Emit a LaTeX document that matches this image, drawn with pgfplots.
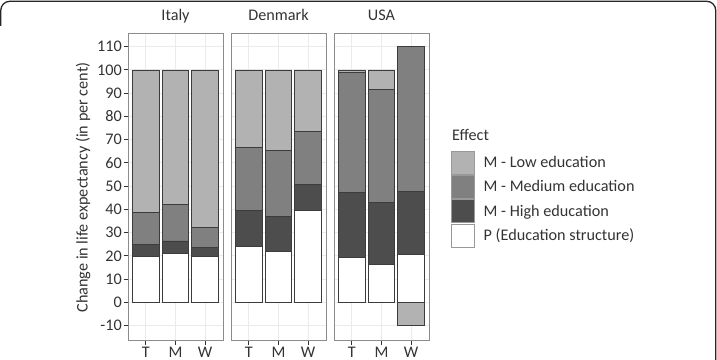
\documentclass[border=0pt]{standalone}
\usepackage{pgfplots}
\pgfplotsset{compat=1.18}
\usepackage{pgfplotstable}
\usepackage{fontspec}
\setmainfont{Carlito}

\definecolor{lowedu}{HTML}{B2B2B2}
\definecolor{mededu}{HTML}{808080}
\definecolor{highedu}{HTML}{4D4D4D}
\definecolor{barline}{HTML}{3C3C3C}
\definecolor{keyline}{HTML}{999999}
\definecolor{gridc}{HTML}{EBEBEB}
\definecolor{panelc}{HTML}{8C8C8C}
\definecolor{textc}{HTML}{333333}

% Decomposition of the change in life expectancy (per cent), by sex
% P = education structure, H/Me/L = mortality effect of high/medium/low education
% x: 0 = T (total), 1 = M (men), 2 = W (women)
\pgfplotstableread{
x P    H    Me   L
0 19.9 5.2  13.5 61.4
1 21.1 5.3  15.8 57.8
2 19.8 3.9  8.7  67.6
}\italy
\pgfplotstableread{
x P    H    Me   L
0 24.2 15.5 27.0 33.3
1 21.8 15.2 28.4 34.6
2 39.5 11.3 22.9 26.3
}\denmark
\pgfplotstableread{
x P    H    Me   L
0 19.2 28.1 51.6 1.1
1 16.4 26.6 48.5 8.5
2 20.8 26.8 62.5 -10.1
}\usa

\newcommand{\chartfont}{\fontsize{16.2bp}{19bp}\selectfont}

\pgfplotsset{
  panel/.style={
    scale only axis, width=95bp, height=307bp,
    xmin=-0.6, xmax=2.6, ymin=-16.2, ymax=115.9,
    xtick={0,1,2}, xticklabels={T,M,W},
    ytick={-10,0,10,20,30,40,50,60,70,80,90,100,110},
    yticklabels={-10,0,10,20,30,40,50,60,70,80,90,100,110},
    grid=major, grid style={gridc, line width=0.9bp},
    axis line style={panelc, line width=0.9bp},
    tick align=outside, major tick length=4.5bp,
    tick style={textc, line width=0.9bp},
    xtick pos=bottom, ytick pos=left,
    font=\chartfont,
    tick label style={font=\chartfont, text=textc},
    xticklabel style={anchor=base, inner sep=0pt, yshift=-13bp},
    yticklabel style={anchor=east, inner sep=0pt, xshift=-1.5bp},
    title style={at={(0.5,1)}, anchor=base, yshift=6.3bp, inner sep=0pt, text=textc, font=\chartfont},
  },
  seg/.style={ybar, bar width=0.9, bar shift=0pt, draw=barline, line width=0.75bp, fill=#1},
  legend image code/.code={\draw[#1, draw=keyline, line width=0.8bp] (0bp,-11.5bp) rectangle (23.5bp,11.5bp);},
}

% Each segment is drawn as a bar from zero to its cumulative top,
% painted from the outermost segment inwards.
\newcommand{\segments}[1]{%
  \addplot[seg=lowedu] table[x=x, y expr={(\thisrow{L}<0)*\thisrow{L}+(\thisrow{L}>=0)*(\thisrow{P}+\thisrow{H}+\thisrow{Me}+\thisrow{L})}] {#1};
  \addplot[seg=mededu] table[x=x, y expr={\thisrow{P}+\thisrow{H}+\thisrow{Me}}] {#1};
  \addplot[seg=highedu] table[x=x, y expr={\thisrow{P}+\thisrow{H}}] {#1};
  \addplot[seg=white] table[x=x, y=P] {#1};
}

\begin{document}
\begin{tikzpicture}
\useasboundingbox (0,0) rectangle (717bp,360bp);

\begin{axis}[panel, at={(128bp,20bp)}, anchor=south west, title={Italy}]
  \segments{\italy}
\end{axis}

\begin{axis}[panel, at={(231bp,20bp)}, anchor=south west, title={Denmark},
  yticklabels={}, ytick style={draw=none}]
  \segments{\denmark}
\end{axis}

\begin{axis}[panel, at={(334bp,20bp)}, anchor=south west, title={USA},
  yticklabels={}, ytick style={draw=none},
  legend cell align=left,
  legend style={at={(axis description cs:1.2292,0.6166)}, anchor=north west,
    draw=none, fill=none, inner sep=0pt, outer sep=0pt, row sep=0.5bp,
    nodes={inner sep=0pt, text=textc}, font=\chartfont,
    /tikz/every odd column/.append style={column sep=8.6bp}}]
  \segments{\usa}
  \legend{M - Low education, M - Medium education, M - High education, P (Education structure)}
\end{axis}

\node[anchor=base west, inner sep=0pt, text=textc, font=\chartfont] at (452bp,219.3bp) {Effect};
\node[rotate=90, inner sep=0pt, text=textc, font=\chartfont] at (83bp,172.5bp) {Change in life expectancy (in per cent)};

% outer frame
\draw[line width=1.3bp, black!85, rounded corners=9bp]
  (0.8bp,334bp) -- (0.8bp,358.7bp) -- (715.7bp,358.7bp) -- (715.7bp,0bp);
\end{tikzpicture}
\end{document}
